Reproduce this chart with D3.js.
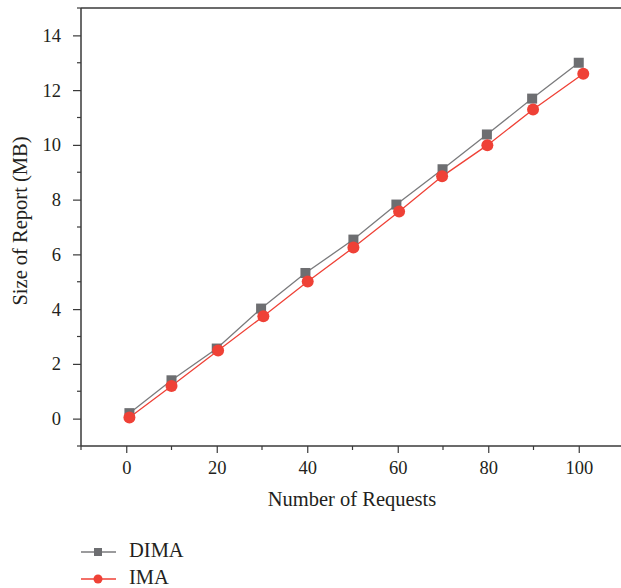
<!DOCTYPE html>
<html>
<head>
<meta charset="utf-8">
<script src="https://cdnjs.cloudflare.com/ajax/libs/d3/7.8.5/d3.min.js"></script>
<style>
  body { margin: 0; background: #fff; }
  svg text { font-family: "Liberation Serif", "DejaVu Serif", serif; fill: #231f20; }
</style>
</head>
<body>
<div id="chart"></div>
<script>
'use strict';

// values
var seriesNames = ["DIMA", "IMA"];
var dimaRequests = [0.7, 10, 20, 29.8, 39.6, 50.2, 59.7, 69.9, 79.7, 89.7, 100];
var dimaSize = [0.2, 1.4, 2.56, 4.02, 5.32, 6.54, 7.82, 9.11, 10.38, 11.69, 13.0];
var imaRequests = [0.7, 10, 20.3, 30.3, 40.1, 50.2, 60.3, 69.8, 79.8, 89.9, 101];
var imaSize = [0.04, 1.19, 2.49, 3.74, 5.01, 6.25, 7.57, 8.85, 9.99, 11.29, 12.6];
var xTicks = [0, 20, 40, 60, 80, 100];
var yTicks = [0, 2, 4, 6, 8, 10, 12, 14];

(function() {
    var width = 621, height = 588;
    var margin = { left: 81, top: 8, right: -3, bottom: 142 };

    var svg = d3.select("#chart").append("svg")
        .attr("width", width)
        .attr("height", height);

    var x = d3.scaleLinear().domain([-10, 110]).range([margin.left, width - margin.right]);
    var y = d3.scaleLinear().domain([-1, 15]).range([height - margin.bottom, margin.top]);

    var axisColor = "#3a3a3a";

    // frame (top + right)
    svg.append("line")
        .attr("x1", x(-10)).attr("x2", x(110))
        .attr("y1", y(15)).attr("y2", y(15))
        .attr("stroke", axisColor).attr("stroke-width", 1.5);
    svg.append("line")
        .attr("x1", x(110)).attr("x2", x(110))
        .attr("y1", y(15)).attr("y2", y(-1))
        .attr("stroke", axisColor).attr("stroke-width", 1.5);

    // minor ticks
    var xMinor = d3.range(-10, 111, 20);
    var yMinor = d3.range(-1, 16, 2);

    var gx = svg.append("g").attr("transform", "translate(0," + y(-1) + ")");
    gx.append("line").attr("x1", x(-10)).attr("x2", x(110))
        .attr("stroke", axisColor).attr("stroke-width", 1.5);
    gx.selectAll(".minor").data(xMinor).enter().append("line")
        .attr("x1", d => x(d)).attr("x2", d => x(d))
        .attr("y1", 0).attr("y2", 4)
        .attr("stroke", axisColor).attr("stroke-width", 1.2);
    gx.call(d3.axisBottom(x).tickValues(xTicks).tickSize(7).tickPadding(8))
        .call(g => g.select(".domain").remove())
        .call(g => g.selectAll(".tick line").attr("stroke", axisColor).attr("stroke-width", 1.2))
        .call(g => g.selectAll(".tick text").attr("font-size", 18.5).attr("fill", "#231f20")
            .attr("font-family", "Liberation Serif, serif"));

    var gy = svg.append("g").attr("transform", "translate(" + x(-10) + ",0)");
    gy.append("line").attr("y1", y(-1)).attr("y2", y(15))
        .attr("stroke", axisColor).attr("stroke-width", 1.5);
    gy.selectAll(".minor").data(yMinor).enter().append("line")
        .attr("y1", d => y(d)).attr("y2", d => y(d))
        .attr("x1", 0).attr("x2", -4)
        .attr("stroke", axisColor).attr("stroke-width", 1.2);
    gy.call(d3.axisLeft(y).tickValues(yTicks).tickSize(8).tickPadding(12))
        .call(g => g.select(".domain").remove())
        .call(g => g.selectAll(".tick line").attr("stroke", axisColor).attr("stroke-width", 1.2))
        .call(g => g.selectAll(".tick text").attr("font-size", 18.5).attr("fill", "#231f20")
            .attr("font-family", "Liberation Serif, serif"));

    // axis titles
    svg.append("text")
        .attr("x", 352).attr("y", 506)
        .attr("text-anchor", "middle")
        .attr("font-size", 20.5)
        .text("Number of Requests");
    svg.append("text")
        .attr("transform", "translate(27,221) rotate(-90)")
        .attr("text-anchor", "middle")
        .attr("font-size", 20.5)
        .text("Size of Report (MB)");

    var line = d3.line().x(d => x(d[0])).y(d => y(d[1]));
    var dima = d3.zip(dimaRequests, dimaSize);
    var ima = d3.zip(imaRequests, imaSize);

    var grey = "#6d6e71", red = "#ef4136";

    svg.append("path").datum(dima).attr("d", line)
        .attr("fill", "none").attr("stroke", "#7a7a7c").attr("stroke-width", 1.3);
    svg.append("path").datum(ima).attr("d", line)
        .attr("fill", "none").attr("stroke", red).attr("stroke-width", 1.3);

    svg.selectAll(".sq").data(dima).enter().append("rect")
        .attr("x", d => x(d[0]) - 5).attr("y", d => y(d[1]) - 5)
        .attr("width", 10).attr("height", 10)
        .attr("fill", grey);
    svg.selectAll(".dot").data(ima).enter().append("circle")
        .attr("cx", d => x(d[0])).attr("cy", d => y(d[1]))
        .attr("r", 6)
        .attr("fill", red);

    // legend
    var legend = svg.append("g");
    var items = [{ name: seriesNames[0], color: grey, lc: "#7a7a7c", shape: "square", y: 552 },
                 { name: seriesNames[1], color: red, lc: red, shape: "circle", y: 579 }];
    items.forEach(function(it) {
        legend.append("line").attr("x1", 81).attr("x2", 116)
            .attr("y1", it.y).attr("y2", it.y)
            .attr("stroke", it.lc).attr("stroke-width", 1.3);
        if (it.shape === "square") {
            legend.append("rect").attr("x", 98 - 4).attr("y", it.y - 4)
                .attr("width", 8).attr("height", 8).attr("fill", it.color);
        } else {
            legend.append("circle").attr("cx", 98).attr("cy", it.y).attr("r", 4.5).attr("fill", it.color);
        }
        legend.append("text").attr("x", 129).attr("y", it.y + 5)
            .attr("font-size", 20.5).text(it.name);
    });
})();
</script>
</body>
</html>
